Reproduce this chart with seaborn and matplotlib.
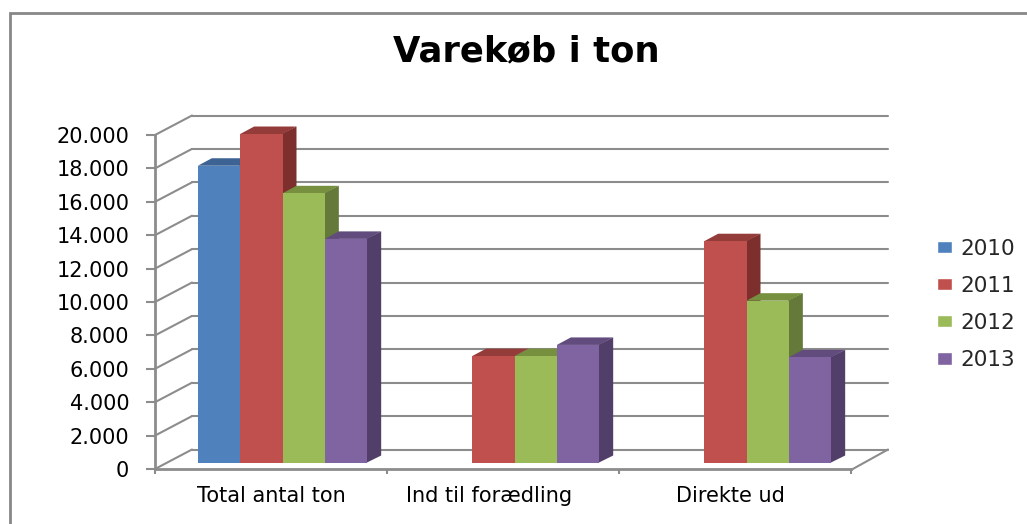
import numpy as np
import pandas as pd
import seaborn as sns
import matplotlib.pyplot as plt
from matplotlib.colors import to_rgb
from matplotlib.patches import Polygon, Rectangle
from matplotlib.transforms import ScaledTranslation

W, H = 1027, 524

categories = ['Total antal ton', 'Ind til forædling', 'Direkte ud']
years = ['2010', '2011', '2012', '2013']
v2010 = [17800, np.nan, np.nan]
v2011 = [19700, 6400, 13280]
v2012 = [16150, 6400, 9720]
v2013 = [13420, 7070, 6330]
y_ticks = [0, 2000, 4000, 6000, 8000, 10000, 12000, 14000, 16000, 18000, 20000]
y_labels = ['0', '2.000', '4.000', '6.000', '8.000', '10.000', '12.000', '14.000', '16.000', '18.000', '20.000']

front = ['#4F81BD', '#C0504D', '#9BBB59', '#8064A2']
top = ['#3C6393', '#943C3A', '#76903F', '#624C7E']
side = ['#30507A', '#7C2F2D', '#64793A', '#513E69']
grid_col = '#8C8C8C'

sns.set_theme(style='white')
plt.rcParams['font.family'] = ['DejaVu Sans']

df = pd.DataFrame({'category': categories, '2010': v2010, '2011': v2011, '2012': v2012, '2013': v2013})
df = df.melt(id_vars='category', var_name='year', value_name='ton')

fig = plt.figure(figsize=(W / 100, H / 100), dpi=100)


def px_axes(left, right, top_y, bottom_y):
    return fig.add_axes([left / W, 1 - bottom_y / H, (right - left) / W, (bottom_y - top_y) / H])


# chart frame, only left and top edges are inside the picture
fig.add_artist(Rectangle((10 / W, -0.1), 1.1, 1.1 - 13 / H, transform=fig.transFigure,
                         fill=False, edgecolor='#878787', linewidth=2))

# axes with ticks and the back wall
wall = px_axes(155, 851, 135, 469)
wall.set_xlim(0, 3)
wall.set_ylim(0, 20000)
wall.set_yticks(y_ticks, y_labels)
wall.set_xticks([0, 1, 2, 3], [])
wall.set_xticks([0.5, 1.44, 2.48], categories, minor=True)
wall.tick_params(axis='y', length=6.5, width=1.5, color=grid_col, pad=12, labelsize=15, labelcolor='black', left=True)
wall.tick_params(axis='x', which='major', length=3.6, width=1.5, color=grid_col, bottom=True)
wall.tick_params(axis='x', which='minor', length=0, pad=12, labelsize=15, labelcolor='black')
sns.despine(ax=wall, top=True, right=True)
for s in ['left', 'bottom']:
    wall.spines[s].set_color(grid_col)
    wall.spines[s].set_linewidth(2)
wall.patch.set_alpha(0)

back = wall.transData + ScaledTranslation(37 / 100, 19.5 / 100, fig.dpi_scale_trans)
skew = 37 / (696 / 3)
lift = 19.5 * 20000 / 334
for t in y_ticks:
    wall.plot([0, skew], [t, t + lift], color=grid_col, lw=1.5, clip_on=False)
    wall.plot([0, 3], [t, t], color=grid_col, lw=1.5, transform=back, clip_on=False)
wall.plot([3, 3 + skew], [-60, lift], color=grid_col, lw=1.5, clip_on=False)

# bars sit a bit behind the axis plane
ax = px_axes(166.5, 862.5, 129, 463)
sns.barplot(data=df, x='category', y='ton', hue='year', hue_order=years, palette=front,
            width=0.73, saturation=1, ax=ax)
ax.set_xlim(-0.5, 2.5)
ax.set_ylim(0, 20000)

dx = 14 / (696 / 3)
dy = 7.5 * 20000 / 334
bars = [p for p in ax.patches if p.get_height() > 0]
bars = sorted(bars, key=lambda p: p.get_x())
for i, bar in enumerate(bars):
    x0, x1 = bar.get_x(), bar.get_x() + bar.get_width()
    h = bar.get_height()
    rgb = bar.get_facecolor()[:3]
    k = [j for j, f in enumerate(front) if np.allclose(to_rgb(f), rgb, atol=0.01)][0]
    z = 3 + i
    bar.set_zorder(z + 0.5)
    bar.set_linewidth(0)
    ax.add_patch(Polygon([(x1 - 0.005, 0), (x1 + dx, dy), (x1 + dx, h + dy), (x1 - 0.005, h)],
                         facecolor=side[k], lw=0, zorder=z, clip_on=False))
    ax.add_patch(Polygon([(x0, h), (x0 + dx, h + dy), (x1 + dx, h + dy), (x1, h)],
                         facecolor=top[k], lw=0, zorder=z, clip_on=False))

sns.move_legend(ax, loc='center left', bbox_to_anchor=(937 / W, 1 - 304.5 / H), bbox_transform=fig.transFigure,
                title=None, frameon=False, fontsize=15.5, handlelength=0.7, handleheight=0.5,
                labelspacing=0.79, handletextpad=0.38, borderpad=0, borderaxespad=0)
ax.axis('off')
ax.patch.set_alpha(0)

fig.text(526.5 / W, 1 - 51 / H, 'Varekøb i ton', ha='center', va='center', fontsize=25.5, fontweight='bold', color='black')

fig.savefig('out.png', dpi=100)
